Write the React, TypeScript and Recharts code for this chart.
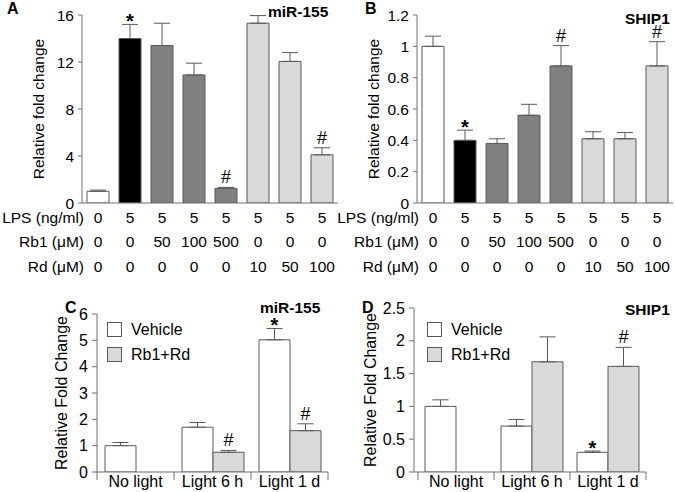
import React from 'react';
import { BarChart, Bar, XAxis, YAxis, ErrorBar, Cell, LabelList, Label, Legend } from 'recharts';

// panels A and B: 8 treatment conditions
const conditions = ['c1', 'c2', 'c3', 'c4', 'c5', 'c6', 'c7', 'c8'];
const lpsDose = ['0', '5', '5', '5', '5', '5', '5', '5'];
const rb1Dose = ['0', '0', '50', '100', '500', '0', '0', '0'];
const rdDose = ['0', '0', '0', '0', '0', '10', '50', '100'];

const mirValues = [1.0, 14.0, 13.4, 10.9, 1.25, 15.3, 12.05, 4.1];
const mirErr = [0.1, 1.2, 1.9, 1.0, 0.08, 0.65, 0.75, 0.6];
const mirMarks = ['', '*', '', '', '#', '', '', '#'];

const shipValues = [1.0, 0.4, 0.38, 0.56, 0.875, 0.41, 0.41, 0.875];
const shipErr = [0.065, 0.065, 0.03, 0.07, 0.13, 0.045, 0.04, 0.155];
const shipMarks = ['', '*', '', '', '#', '', '', '#'];

// panels C and D: light exposure
const lightGroups = ['No light', 'Light 6 h', 'Light 1 d'];

const vehicleC = [1.0, 1.7, 5.02];
const vehicleCErr = [0.12, 0.18, 0.43];
const vehicleCMarks = ['', '', '*'];
const ginsC = [null, 0.75, 1.57];
const ginsCErr = [0, 0.07, 0.26];
const ginsCMarks = ['', '#', '#'];

const vehicleD = [1.0, 0.7, 0.3];
const vehicleDErr = [0.1, 0.1, 0.02];
const vehicleDMarks = ['', '', '*'];
const ginsD = [null, 1.68, 1.61];
const ginsDErr = [0, 0.38, 0.29];
const ginsDMarks = ['', '', '#'];

const FONT = '"Liberation Sans", Arial, Helvetica, sans-serif';
const AXIS = '#707070';
const EDGE = '#5a5a5a';
const treatFills = ['#ffffff', '#000000', '#808080', '#808080', '#808080', '#d9d9d9', '#d9d9d9', '#d9d9d9'];
const legendFills: Record<string, string> = { Vehicle: '#ffffff', 'Rb1+Rd': '#d9d9d9' };

const dataA = conditions.map((id, i) => ({ id, value: mirValues[i], err: [0, mirErr[i]] }));
const dataB = conditions.map((id, i) => ({ id, value: shipValues[i], err: [0, shipErr[i]] }));
const dataC = lightGroups.map((group, i) => ({
  group,
  vehicle: vehicleC[i],
  vehicleErr: [0, vehicleCErr[i]],
  gins: ginsC[i],
  ginsErr: ginsC[i] == null ? null : [0, ginsCErr[i]],
}));
const dataD = lightGroups.map((group, i) => ({
  group,
  vehicle: vehicleD[i],
  vehicleErr: [0, vehicleDErr[i]],
  gins: ginsD[i],
  ginsErr: ginsD[i] == null ? null : [0, ginsDErr[i]],
}));

// significance mark sits on top of the error bar, found from the bar's own pixel scale
function markContent(values: (number | null)[], errs: number[], marks: string[]) {
  return (p: any) => {
    let i = p.index;
    // empty bars are skipped by the label list, so re-find the entry by value
    if (values[i] !== Number(p.value)) i = values.indexOf(Number(p.value));
    const mark = marks[i];
    const v = values[i];
    if (!mark || !v) return null;
    const x = Number(p.x);
    const y = Number(p.y);
    const w = Number(p.width);
    const h = Number(p.height);
    const top = y - (errs[i] * h) / v;
    const star = mark === '*';
    return (
      <text
        x={x + w / 2}
        y={star ? top + 4 : top - 4}
        textAnchor="middle"
        fontSize={star ? 20 : 18}
        fontWeight={star ? 'bold' : 'normal'}
        fill="#000"
        fontFamily={FONT}
      >
        {mark}
      </text>
    );
  };
}

function DoseTick(props: any) {
  const { x, y, payload, row, rowName } = props;
  const i = payload?.index ?? props.index;
  return (
    <g>
      {i === 0 && (
        <text x={x - 14} y={y + 20} textAnchor="end" fontSize={15.5} fill="#000" fontFamily={FONT}>
          {rowName}
        </text>
      )}
      <text x={x} y={y + 20} textAnchor="middle" fontSize={15.5} fill="#000" fontFamily={FONT}>
        {row[i]}
      </text>
    </g>
  );
}

function GroupTick(props: any) {
  const { x, y, payload, width, visibleTicksCount } = props;
  const half = payload?.offset ? payload.offset : width / visibleTicksCount / 2;
  const i = payload?.index ?? props.index;
  return (
    <g>
      {i === 0 && <line x1={x - half} x2={x - half} y1={y} y2={y + 8} stroke={AXIS} />}
      <line x1={x + half} x2={x + half} y1={y} y2={y + 8} stroke={AXIS} />
      <text x={x} y={y + 15} textAnchor="middle" fontSize={16} fill="#000" fontFamily={FONT}>
        {payload.value}
      </text>
    </g>
  );
}

const yTick = { fontSize: 15.5, fill: '#000', fontFamily: FONT };

function LegendBox() {
  const names = ['Vehicle', 'Rb1+Rd'];
  return (
    <div style={{ fontFamily: FONT, fontSize: 16, color: '#000' }}>
      {names.map(n => (
        <div key={n} style={{ display: 'flex', alignItems: 'center', height: 25 }}>
          <span
            style={{
              display: 'inline-block',
              width: 13,
              height: 13,
              background: legendFills[n],
              border: `1px solid ${EDGE}`,
              marginRight: 9,
            }}
          />
          {n}
        </div>
      ))}
    </div>
  );
}

function DosePanel({ data, values, errs, marks, ticks, domain }: any) {
  return (
    <BarChart width={338} height={280} data={data} margin={{ top: 15, right: 0, bottom: 0, left: 0 }}>
      <XAxis
        xAxisId="lps"
        dataKey="id"
        height={24}
        tickSize={0}
        tickMargin={0}
        stroke={AXIS}
        tickLine={false}
        tick={<DoseTick row={lpsDose} rowName="LPS (ng/ml)" />}
        interval={0}
      />
      <XAxis
        xAxisId="rb1"
        dataKey="id"
        height={25}
        tickSize={0}
        tickMargin={0}
        axisLine={false}
        tickLine={false}
        tick={<DoseTick row={rb1Dose} rowName="Rb1 (μM)" />}
        interval={0}
      />
      <XAxis
        xAxisId="rd"
        dataKey="id"
        height={28}
        tickSize={0}
        tickMargin={0}
        axisLine={false}
        tickLine={false}
        tick={<DoseTick row={rdDose} rowName="Rd (μM)" />}
        interval={0}
      />
      <YAxis
        width={82}
        domain={domain}
        ticks={ticks}
        allowDataOverflow
        stroke={AXIS}
        tickSize={4}
        tickMargin={4}
        tick={yTick}
      >
        <Label
          value="Relative fold change"
          angle={-90}
          position="insideLeft"
          offset={38}
          style={{ textAnchor: 'middle', fontSize: 15.5, fill: '#000', fontFamily: FONT }}
        />
      </YAxis>
      <Bar xAxisId="lps" dataKey="value" barSize={22} stroke={EDGE} strokeWidth={1} isAnimationActive={false}>
        {data.map((d: any, i: number) => (
          <Cell key={d.id} fill={treatFills[i]} />
        ))}
        <ErrorBar dataKey="err" width={8} stroke={EDGE} strokeWidth={1} />
        <LabelList dataKey="value" content={markContent(values, errs, marks)} />
      </Bar>
    </BarChart>
  );
}

function LightPanel({ data, vehicle, vehicleErr, vehicleMarks, gins, ginsErr, ginsMarks, ticks, domain, yWidth, labelOffset, top, right, padLeft, legendLeft }: any) {
  return (
    <BarChart
      width={340}
      height={204}
      data={data}
      barGap={0}
      margin={{ top, right, bottom: 0, left: 0 }}
    >
      <XAxis
        dataKey="group"
        height={20}
        tickSize={0}
        tickMargin={0}
        stroke={AXIS}
        tickLine={false}
        padding={{ left: padLeft, right: 0 }}
        tick={<GroupTick />}
        interval={0}
      />
      <YAxis
        width={yWidth}
        domain={domain}
        ticks={ticks}
        allowDataOverflow
        stroke={AXIS}
        tickSize={5}
        tickMargin={4}
        tick={{ ...yTick, fontSize: 16 }}
      >
        <Label
          value="Relative Fold Change"
          angle={-90}
          position="insideLeft"
          offset={labelOffset}
          style={{ textAnchor: 'middle', fontSize: 16, fill: '#000', fontFamily: FONT }}
        />
      </YAxis>
      <Legend
        layout="vertical"
        align="center"
        verticalAlign="middle"
        content={() => <LegendBox />}
        wrapperStyle={{ left: legendLeft, top: 29, width: 120, height: 50 }}
      />
      <Bar dataKey="vehicle" name="Vehicle" fill="#ffffff" stroke={EDGE} barSize={31} isAnimationActive={false}>
        <ErrorBar dataKey="vehicleErr" width={8} stroke={EDGE} strokeWidth={1} />
        <LabelList dataKey="vehicle" content={markContent(vehicle, vehicleErr, vehicleMarks)} />
      </Bar>
      <Bar dataKey="gins" name="Rb1+Rd" fill="#d9d9d9" stroke={EDGE} barSize={31} isAnimationActive={false}>
        <ErrorBar dataKey="ginsErr" width={8} stroke={EDGE} strokeWidth={1} />
        <LabelList dataKey="gins" content={markContent(gins, ginsErr, ginsMarks)} />
      </Bar>
    </BarChart>
  );
}

export default function App() {
  const title = { fontFamily: FONT, fontWeight: 'bold' as const, fill: '#000' };
  return (
    <div style={{ position: 'absolute', left: 0, top: 0, width: 675, height: 492, background: '#fff', fontFamily: FONT }}>
      <div style={{ position: 'absolute', left: 0, top: 0 }}>
        <DosePanel data={dataA} values={mirValues} errs={mirErr} marks={mirMarks} ticks={[0, 4, 8, 12, 16]} domain={[0, 16]} />
      </div>
      <div style={{ position: 'absolute', left: 335, top: 0 }}>
        <DosePanel data={dataB} values={shipValues} errs={shipErr} marks={shipMarks} ticks={[0, 0.2, 0.4, 0.6, 0.8, 1, 1.2]} domain={[0, 1.2]} />
      </div>
      <div style={{ position: 'absolute', left: 0, top: 288 }}>
        <LightPanel
          data={dataC}
          vehicle={vehicleC}
          vehicleErr={vehicleCErr}
          vehicleMarks={vehicleCMarks}
          gins={ginsC}
          ginsErr={ginsCErr}
          ginsMarks={ginsCMarks}
          ticks={[0, 1, 2, 3, 4, 5, 6]}
          domain={[0, 6]}
          yWidth={97}
          labelOffset={61}
          top={26}
          right={12}
          padLeft={0}
          legendLeft={107}
        />
      </div>
      <div style={{ position: 'absolute', left: 335, top: 288 }}>
        <LightPanel
          data={dataD}
          vehicle={vehicleD}
          vehicleErr={vehicleDErr}
          vehicleMarks={vehicleDMarks}
          gins={ginsD}
          ginsErr={ginsDErr}
          ginsMarks={ginsDMarks}
          ticks={[0, 0.5, 1, 1.5, 2, 2.5]}
          domain={[0, 2.5]}
          yWidth={79}
          labelOffset={35}
          top={20}
          right={29}
          padLeft={4}
          legendLeft={92}
        />
      </div>
      <svg width={675} height={492} style={{ position: 'absolute', left: 0, top: 0, pointerEvents: 'none' }}>
        <text x={7} y={14} fontSize={16} {...title}>A</text>
        <text x={268} y={17} fontSize={15.5} {...title}>miR-155</text>
        <text x={365} y={14} fontSize={16} {...title}>B</text>
        <text x={625} y={24} fontSize={15.5} {...title}>SHIP1</text>
        <text x={65} y={313} fontSize={16} {...title}>C</text>
        <text x={260} y={313} fontSize={15.5} {...title}>miR-155</text>
        <text x={362} y={313} fontSize={16} {...title}>D</text>
        <text x={625} y={315} fontSize={15.5} {...title}>SHIP1</text>
      </svg>
    </div>
  );
}
